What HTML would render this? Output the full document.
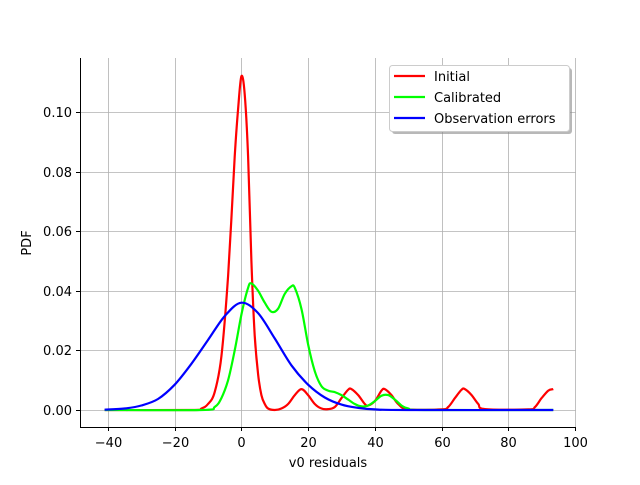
<!DOCTYPE html>
<html><head><meta charset="utf-8"><style>
body{margin:0;background:#fff;}
svg text{font-family:"DejaVu Sans","Liberation Sans",sans-serif;fill:#000;}
</style></head><body>
<svg id="chart" width="640" height="480" xmlns="http://www.w3.org/2000/svg">
<rect width="640" height="480" fill="#fff"/>
<g id="grid"></g>
<g id="ticks"></g>
<g id="series"></g>
<line x1="80.5" y1="58" x2="80.5" y2="427" stroke="#000" stroke-width="1"/>
<line x1="80" y1="427.5" x2="576" y2="427.5" stroke="#000" stroke-width="1"/>
<text x="328" y="467" text-anchor="middle" font-size="13">v0 residuals</text>
<text x="0" y="0" transform="translate(31,243) rotate(-90)" text-anchor="middle" font-size="13">PDF</text>
<g>
<rect x="392" y="68" width="180" height="66" rx="3" fill="#888" opacity="0.6"/>
<rect x="389.5" y="65.5" width="180" height="66" rx="3" fill="#fff" stroke="#ccc"/>
<g><line x1="394" y1="76" x2="425" y2="76" stroke="#f00" stroke-width="2.2"/><text x="434" y="81" font-size="13">Initial</text></g>
<g><line x1="394" y1="97" x2="425" y2="97" stroke="#0f0" stroke-width="2.2"/><text x="434" y="102" font-size="13">Calibrated</text></g>
<g><line x1="394" y1="118" x2="425" y2="118" stroke="#00f" stroke-width="2.2"/><text x="434" y="123" font-size="13">Observation errors</text></g>
</g>
</svg>
<script>
const xTicks=[-40,-20,0,20,40,60,80,100];
const yTicks=[0,0.02,0.04,0.06,0.08,0.10];
const yTickLabels=["0.00","0.02","0.04","0.06","0.08","0.10"];
const initialX=[-41,-15,-12,-10,-8,-6,-4,-2,-1,0,1,2,3,4,5,6,7,8,10,12,14,16,18,20,22,24,26,28,30,32,33,35,37,38,40,42,43,45,47,50,60,62,64,66,67,69,71,73,86,88,90,92,93.5];
const initialY=[0,0,0.0005,0.002,0.006,0.018,0.045,0.085,0.101,0.112,0.106,0.085,0.05,0.025,0.012,0.005,0.002,0.0005,0,0.0005,0.002,0.005,0.007,0.005,0.002,0.0005,0.0003,0.001,0.004,0.0068,0.007,0.005,0.002,0.0015,0.003,0.0065,0.007,0.005,0.002,0.0002,0.0002,0.001,0.004,0.0068,0.007,0.005,0.002,0.0003,0.0002,0.001,0.004,0.0065,0.007];
const calibratedX=[-41,-12,-8,-6,-4,-2,0,2,3,5,7,9,11,13,15,16,18,20,22,24,26,28,30,32,34,36,38,40,42,44,46,48,50,55,93.5];
const calibratedY=[0,0,0.001,0.004,0.01,0.02,0.032,0.041,0.0425,0.04,0.036,0.033,0.034,0.039,0.0415,0.041,0.034,0.022,0.013,0.008,0.0065,0.006,0.005,0.0035,0.002,0.0012,0.0015,0.003,0.0048,0.005,0.0035,0.0015,0.0005,0,0];
const obsX=[-41,-35,-30,-25,-20,-15,-10,-5,0,5,10,15,20,25,30,35,40,50,93.5];
const obsY=[0.0001,0.0005,0.0015,0.0037,0.0085,0.0155,0.0235,0.0315,0.036,0.0325,0.024,0.015,0.0085,0.0042,0.0018,0.0007,0.0002,0,0];

const NS="http://www.w3.org/2000/svg";
function sx(v){return 241.4+v*3.336;}
function sy(v){return 410-v*2980;}
const grid=document.getElementById('grid'),ticks=document.getElementById('ticks'),series=document.getElementById('series');
xTicks.forEach(t=>{
  const x=Math.round(sx(t))+0.5;
  const g=document.createElementNS(NS,'line');
  
  
  g.setAttribute('x1',x);g.setAttribute('x2',x);g.setAttribute('y1',58);g.setAttribute('y2',427);
  g.setAttribute('stroke','#b0b0b0');g.setAttribute('stroke-width','0.8');grid.appendChild(g);
  const tk=document.createElementNS(NS,'line');
  
  
  tk.setAttribute('x1',x);tk.setAttribute('x2',x);tk.setAttribute('y1',427);tk.setAttribute('y2',431);tk.setAttribute('stroke','#000');ticks.appendChild(tk);
  const tx=document.createElementNS(NS,'text');
  
  
  tx.setAttribute('x',x);tx.setAttribute('y',447);tx.setAttribute('text-anchor','middle');tx.setAttribute('font-size','13');
  tx.textContent=(t<0?'\u2212'+(-t):t);ticks.appendChild(tx);
});
yTicks.forEach((t,i)=>{
  const y=Math.round(sy(t))+0.5;
  const g=document.createElementNS(NS,'line');
  
  
  g.setAttribute('x1',80);g.setAttribute('x2',576);g.setAttribute('y1',y);g.setAttribute('y2',y);
  g.setAttribute('stroke','#b0b0b0');g.setAttribute('stroke-width','0.8');grid.appendChild(g);
  const tk=document.createElementNS(NS,'line');
  
  
  tk.setAttribute('x1',76);tk.setAttribute('x2',80);tk.setAttribute('y1',y);tk.setAttribute('y2',y);tk.setAttribute('stroke','#000');ticks.appendChild(tk);
  const tx=document.createElementNS(NS,'text');
  
  
  tx.setAttribute('x',72);tx.setAttribute('y',y+4.5);tx.setAttribute('text-anchor','end');tx.setAttribute('font-size','13');
  tx.textContent=yTickLabels[i];ticks.appendChild(tx);
});
function smoothPath(xs,ys){
  const p=xs.map((x,i)=>[sx(x),sy(ys[i])]);
  let d='M'+p[0][0].toFixed(1)+','+p[0][1].toFixed(1);
  for(let i=0;i<p.length-1;i++){
    const p0=p[i-1]||p[i],p1=p[i],p2=p[i+1],p3=p[i+2]||p2;
    const c1=[p1[0]+(p2[0]-p0[0])/6,p1[1]+(p2[1]-p0[1])/6];
    const c2=[p2[0]-(p3[0]-p1[0])/6,p2[1]-(p3[1]-p1[1])/6];
    d+=' C'+c1[0].toFixed(1)+','+c1[1].toFixed(1)+' '+c2[0].toFixed(1)+','+c2[1].toFixed(1)+' '+p2[0].toFixed(1)+','+p2[1].toFixed(1);
  }
  return d;
}
[[initialX,initialY,'#f00','initial-curve'],[calibratedX,calibratedY,'#0f0','calibrated-curve'],[obsX,obsY,'#00f','observation-errors-curve']].forEach(s=>{
  const path=document.createElementNS(NS,'path');
  
  
  path.setAttribute('d',smoothPath(s[0],s[1]));
  path.setAttribute('fill','none');path.setAttribute('stroke',s[2]);path.setAttribute('stroke-width','2.2');
  path.setAttribute('stroke-linejoin','round');
  series.appendChild(path);
});
</script>
</body></html>
